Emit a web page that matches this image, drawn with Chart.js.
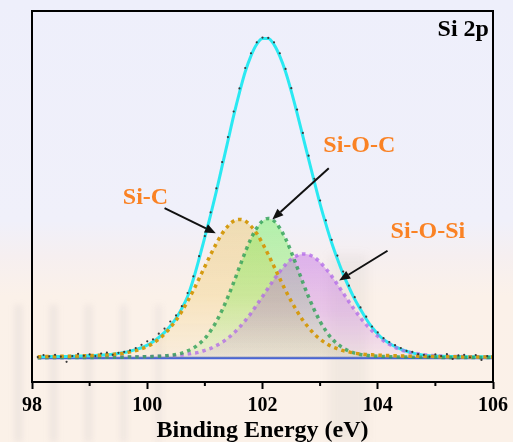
<!DOCTYPE html>
<html>
<head>
<meta charset="utf-8">
<title>Si 2p</title>
<script src="https://cdn.jsdelivr.net/npm/chart.js@4.4.1/dist/chart.umd.min.js"></script>
<style>
  html, body { margin: 0; padding: 0; }
  body {
    width: 513px; height: 442px; overflow: hidden; position: relative;
    background: linear-gradient(180deg, #eeeffb 0%, #f0f0fa 50%, #f6eff0 58%, #fbf1e9 67%, #fbf1e8 100%);
  }
  .pillar { position: absolute; filter: blur(3px); }
  #xps { position: absolute; left: 0; top: 0; }
</style>
</head>
<body>
<div class="pillar" style="left:15px;top:305px;width:7px;height:137px;background:rgba(150,150,165,0.13)"></div>
<div class="pillar" style="left:50px;top:305px;width:7px;height:137px;background:rgba(150,150,165,0.13)"></div>
<div class="pillar" style="left:85px;top:305px;width:7px;height:137px;background:rgba(150,150,165,0.12)"></div>
<div class="pillar" style="left:120px;top:305px;width:7px;height:137px;background:rgba(150,150,165,0.11)"></div>
<div class="pillar" style="left:155px;top:305px;width:7px;height:137px;background:rgba(150,150,165,0.10)"></div>
<div class="pillar" style="left:329px;top:255px;width:38px;height:187px;background:rgba(140,140,140,0.09);filter:blur(5px)"></div>
<canvas id="xps" width="513" height="442"></canvas>
<script>
// binding energy grid (eV)
const energy = [
  98.1, 98.2, 98.3, 98.4, 98.5, 98.6, 98.7, 98.8, 98.9, 99.0,
  99.1, 99.2, 99.3, 99.4, 99.5, 99.6, 99.7, 99.8, 99.9, 100.0,
  100.1, 100.2, 100.3, 100.4, 100.5, 100.6, 100.7, 100.8, 100.9, 101.0,
  101.1, 101.2, 101.3, 101.4, 101.5, 101.6, 101.7, 101.8, 101.9, 102.0,
  102.1, 102.2, 102.3, 102.4, 102.5, 102.6, 102.7, 102.8, 102.9, 103.0,
  103.1, 103.2, 103.3, 103.4, 103.5, 103.6, 103.7, 103.8, 103.9, 104.0,
  104.1, 104.2, 104.3, 104.4, 104.5, 104.6, 104.7, 104.8, 104.9, 105.0,
  105.1, 105.2, 105.3, 105.4, 105.5, 105.6, 105.7, 105.8, 105.9, 106.0
];

// raw counts (normalised)
const measured = [
  .003, .009, .005, .010, .004, -.012, .006, .013, .007, .011,
  .006, .014, .017, .010, .016, .019, .024, .031, .041, .052,
  .058, .076, .092, .114, .133, .162, .203, .255, .318, .381,
  .455, .530, .612, .690, .770, .842, .906, .952, .986, 1.001,
  1.000, .986, .952, .903, .843, .776, .703, .632, .560, .492,
  .430, .369, .320, .270, .226, .190, .158, .129, .098, .080,
  .062, .050, .040, .031, .022, .019, .012, .010, .004, .011,
  .006, .012, -.003, .008, .010, .002, .009, -.006, .006, .004
];

// fitted envelope
const envelope = [
  .004, .004, .0045, .0045, .005, .005, .0055, .006, .0065, .007,
  .008, .009, .010, .012, .014, .017, .021, .026, .032, .040,
  .051, .064, .080, .100, .124, .155, .192, .246, .310, .378,
  .447, .521, .600, .678, .757, .829, .894, .944, .980, .998,
  .998, .979, .943, .894, .833, .765, .693, .621, .550, .481,
  .418, .360, .309, .262, .221, .184, .152, .122, .096, .075,
  .058, .046, .036, .028, .021, .016, .012, .009, .007, .006,
  .0055, .005, .005, .0045, .0045, .004, .004, .004, .004, .004
];

// component peaks
const siC = [
  .0041, .0044, .0046, .0049, .0052, .0055, .0059, .0063, .0068, .0074,
  .0081, .0089, .0099, .011, .013, .015, .019, .023, .029, .036,
  .046, .059, .075, .095, .118, .146, .177, .211, .248, .286,
  .323, .358, .389, .412, .428, .433, .428, .412, .389, .358,
  .323, .286, .248, .211, .177, .146, .118, .095, .075, .059,
  .046, .036, .029, .023, .019, .015, .013, .011, .0099, .0089,
  .0081, .0074, .0068, .0063, .0059, .0055, .0052, .0049, .0046, .0044,
  .0041, .0039, .0037, .0035, .0033, .0032, .003, .0029, .0028, .0027
];

const siOC = [
  .0011, .0011, .0012, .0013, .0013, .0014, .0015, .0016, .0017, .0018,
  .0019, .002, .0022, .0023, .0025, .0027, .003, .0033, .0036, .004,
  .0045, .0053, .0065, .0084, .011, .015, .022, .031, .044, .061,
  .085, .114, .150, .191, .236, .284, .331, .373, .406, .428,
  .436, .428, .406, .373, .331, .284, .236, .191, .150, .114,
  .085, .061, .044, .031, .022, .015, .011, .0084, .0065, .0053,
  .0045, .004, .0036, .0033, .003, .0027, .0025, .0023, .0022, .002,
  .0019, .0018, .0017, .0016, .0015, .0014, .0013, .0013, .0012, .0011
];

const siOSi = [
  .0015, .0016, .0017, .0017, .0018, .0019, .002, .0021, .0022, .0023,
  .0024, .0026, .0027, .0029, .0031, .0032, .0034, .0037, .004, .0044,
  .0048, .0053, .006, .0068, .008, .0096, .012, .015, .018, .024,
  .030, .039, .049, .062, .078, .096, .117, .140, .166, .192,
  .219, .246, .270, .292, .309, .320, .325, .323, .314, .299,
  .279, .256, .230, .203, .176, .150, .126, .104, .085, .068,
  .054, .043, .033, .026, .020, .016, .013, .010, .0086, .0072,
  .0063, .0055, .0049, .0045, .0042, .0038, .0035, .0033, .0031, .0029
];

// flat background under the peaks
const bgEnergy = [98.1, 106.0];
const bgLevel = [0, 0];

const xTicks = [98, 100, 102, 104, 106];

const serif = "'Liberation Serif', 'Times New Roman', serif";

const pts = ys => energy.map((x, i) => ({ x: x, y: ys[i] }));

// fill fades from the peak top down to the baseline
function fillSet(ys, rgb, order) {
  const top = Math.max(...ys);
  return {
    data: pts(ys), order: order, borderWidth: 0, borderColor: 'rgba(0,0,0,0)',
    fill: 'origin', pointRadius: 0, cubicInterpolationMode: 'monotone',
    backgroundColor: c => {
      const ch = c.chart;
      if (!ch.chartArea) return 'rgba(' + rgb + ',0.3)';
      const y = ch.scales.y;
      const g = ch.ctx.createLinearGradient(0, y.getPixelForValue(top), 0, y.getPixelForValue(0));
      g.addColorStop(0, 'rgba(' + rgb + ',0.44)');
      g.addColorStop(0.55, 'rgba(' + rgb + ',0.30)');
      g.addColorStop(1, 'rgba(' + rgb + ',0.08)');
      return g;
    }
  };
}

function dotSet(ys, color, order) {
  return {
    data: pts(ys), order: order, borderWidth: 3.5, borderColor: color,
    borderDash: [3.5, 4], borderCapStyle: 'butt', fill: false, pointRadius: 0,
    cubicInterpolationMode: 'monotone'
  };
}

// peak labels, placed in data units
const notes = [
  { text: 'Si-C', x: 99.97, y: 0.50, from: [100.30, 0.468], to: [101.19, 0.39] },
  { text: 'Si-O-C', x: 103.68, y: 0.6625, from: [103.15, 0.593], to: [102.17, 0.433] },
  { text: 'Si-O-Si', x: 104.87, y: 0.394, from: [104.17, 0.335], to: [103.33, 0.242] }
];

function arrow(ctx, x1, y1, x2, y2) {
  const a = Math.atan2(y2 - y1, x2 - x1);
  const head = 11, half = 4.5;
  const bx = x2 - head * Math.cos(a), by = y2 - head * Math.sin(a);
  ctx.beginPath();
  ctx.moveTo(x1, y1);
  ctx.lineTo(bx, by);
  ctx.stroke();
  ctx.beginPath();
  ctx.moveTo(x2, y2);
  ctx.lineTo(bx + half * Math.sin(a), by - half * Math.cos(a));
  ctx.lineTo(bx - half * Math.sin(a), by + half * Math.cos(a));
  ctx.closePath();
  ctx.fill();
}

const decor = {
  id: 'decor',
  afterDatasetsDraw(chart) {
    const ctx = chart.ctx, xs = chart.scales.x, ys = chart.scales.y;
    ctx.save();
    ctx.strokeStyle = '#111';
    ctx.fillStyle = '#111';
    ctx.lineWidth = 2;
    notes.forEach(n => {
      arrow(ctx, xs.getPixelForValue(n.from[0]), ys.getPixelForValue(n.from[1]),
        xs.getPixelForValue(n.to[0]), ys.getPixelForValue(n.to[1]));
    });
    ctx.font = 'bold 24px ' + serif;
    ctx.textAlign = 'center';
    ctx.textBaseline = 'middle';
    ctx.fillStyle = '#fa8224';
    notes.forEach(n => {
      ctx.fillText(n.text, xs.getPixelForValue(n.x), ys.getPixelForValue(n.y));
    });
    ctx.fillStyle = '#000';
    ctx.textAlign = 'right';
    ctx.fillText('Si 2p', xs.getPixelForValue(105.93), ys.getPixelForValue(1.025));
    ctx.restore();
  },
  afterDraw(chart) {
    const ctx = chart.ctx, a = chart.chartArea, xs = chart.scales.x;
    ctx.save();
    ctx.strokeStyle = '#000';
    ctx.lineWidth = 2;
    ctx.strokeRect(a.left, a.top, a.right - a.left, a.bottom - a.top);
    // minor ticks between the labelled ones
    ctx.beginPath();
    [99, 101, 103, 105].forEach(v => {
      const px = xs.getPixelForValue(v);
      ctx.moveTo(px, a.bottom);
      ctx.lineTo(px, a.bottom + 4);
    });
    ctx.stroke();
    ctx.restore();
  }
};

new Chart(document.getElementById('xps'), {
  type: 'line',
  data: {
    datasets: [
      { data: pts(measured), order: 0, showLine: false, pointRadius: 1.1,
        pointBorderWidth: 0, pointBackgroundColor: '#3a3a3a' },
      dotSet(siC, '#d49b12', 1),
      dotSet(siOC, 'rgba(46,160,86,0.8)', 2),
      dotSet(siOSi, 'rgba(176,104,232,0.75)', 3),
      { data: pts(envelope), order: 4, borderWidth: 3, borderColor: '#2ae9f2',
        fill: false, pointRadius: 0, cubicInterpolationMode: 'monotone' },
      fillSet(siOSi, '190,98,228', 5),
      fillSet(siOC, '100,240,70', 6),
      fillSet(siC, '238,196,90', 7),
      { data: bgEnergy.map((x, i) => ({ x: x, y: bgLevel[i] })), order: 8,
        borderWidth: 2.5, borderColor: '#4a66d8', fill: false, pointRadius: 0 }
    ]
  },
  options: {
    responsive: false,
    animation: false,
    devicePixelRatio: 1,
    layout: { padding: { left: 32, right: 18, top: 11, bottom: 0 } },
    plugins: { legend: { display: false }, tooltip: { enabled: false } },
    scales: {
      x: {
        type: 'linear', min: 98, max: 106,
        afterFit: s => { s.height = 60; },
        afterBuildTicks: s => { s.ticks = xTicks.map(v => ({ value: v })); },
        grid: { display: true, drawOnChartArea: false, drawTicks: true,
          tickLength: 7, tickWidth: 2, tickColor: '#000' },
        border: { display: false },
        ticks: { autoSkip: false, maxRotation: 0, padding: 5, color: '#000',
          font: { family: serif, weight: 'bold', size: 20, lineHeight: 1.2 } },
        title: { display: true, text: 'Binding Energy (eV)', color: '#000',
          padding: { top: 0, bottom: 0 },
          font: { family: serif, weight: 'bold', size: 24, lineHeight: 0.9 } }
      },
      y: { display: false, min: -0.075, max: 1.084 }
    }
  },
  plugins: [decor]
});
</script>
</body>
</html>
